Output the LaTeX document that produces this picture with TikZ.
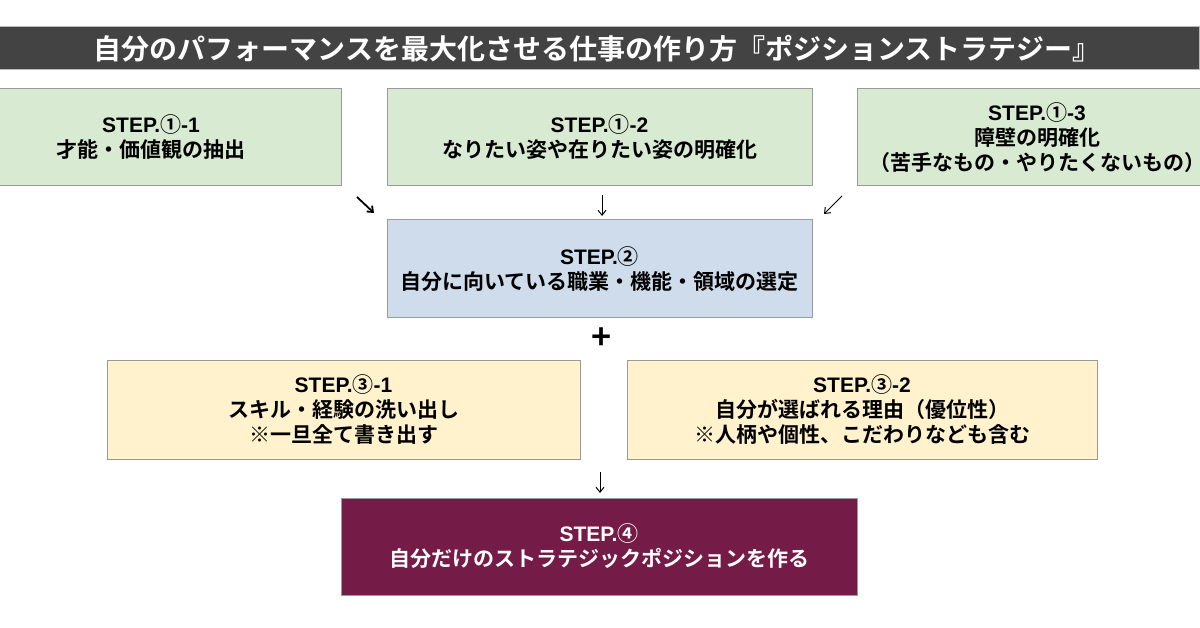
\documentclass[tikz,border=0pt]{standalone}
\usepackage{fontspec}
\setmainfont{Noto Sans CJK JP}[BoldFont={Noto Sans CJK JP Bold}]
\newfontfamily\latinfont{Liberation Sans}
\usetikzlibrary{arrows.meta}

\definecolor{titlegray}{HTML}{434343}
\definecolor{stepgreen}{HTML}{D9EAD3}
\definecolor{stepblue}{HTML}{CFDCEC}
\definecolor{stepyellow}{HTML}{FFF2CC}
\definecolor{steppurple}{HTML}{741B47}
\definecolor{edgegray}{HTML}{9A9A9A}

\newcommand{\steplabel}[2]{{\latinfont STEP.}#1{\latinfont #2}}

\tikzset{
	stepbox/.style={draw=edgegray,line width=1pt,inner sep=0pt,align=center,minimum height=97pt,
		font=\bfseries\fontsize{21}{25}\selectfont},
	greenstep/.style={stepbox,fill=stepgreen},
	bluestep/.style={stepbox,fill=stepblue},
	yellowstep/.style={stepbox,fill=stepyellow},
	purplestep/.style={stepbox,fill=steppurple,text=white},
	titlebar/.style={fill=titlegray,draw=gray!55,line width=1pt,minimum width=1204pt,minimum height=43pt,
		inner sep=0pt,text=white,font=\bfseries\fontsize{28}{30}\selectfont},
	flow/.style={-{Straight Barb[length=5pt,width=8pt]},line width=1pt}
}

\begin{document}
\begin{tikzpicture}[x=1pt,y=-1pt]
	
	\useasboundingbox (0,0) rectangle (1200,628);
	\clip (0,0) rectangle (1200,628);
	
	\node[titlebar] (title) at (597,48.5) {自分のパフォーマンスを最大化させる仕事の作り方『ポジションストラテジー』};
	
	\node[greenstep,minimum width=380pt] (s11) at (151,137.5) {\steplabel{①}{-1}\\才能・価値観の抽出};
	\node[greenstep,minimum width=425pt] (s12) at (599.5,137.5) {\steplabel{①}{-2}\\なりたい姿や在りたい姿の明確化};
	\node[greenstep,minimum width=360pt] (s13) at (1037,137.5) {\steplabel{①}{-3}\\障壁の明確化\\（苦手なもの・やりたくないもの）};
	
	\coordinate (a1s) at (357,197);
	\coordinate (a1e) at (374,213);
	\coordinate (a2s) at (602,195);
	\coordinate (a2e) at (602,216);
	\coordinate (a3s) at (842,196);
	\coordinate (a3e) at (824,214);
	
	\draw[flow,line width=1.8pt] (a1s) -- (a1e);
	\draw[flow] (a2s) -- (a2e);
	\draw[flow] (a3s) -- (a3e);
	
	\node[bluestep,minimum width=425pt,minimum height=98pt] (s2) at (599.5,269) {\steplabel{②}{}\\自分に向いている職業・機能・領域の選定};
	
	\node[font=\bfseries\fontsize{34}{36}\selectfont,inner sep=0pt] (plus) at (602,339) {+};
	
	\node[yellowstep,minimum width=473pt,minimum height=98pt] (s31) at (343.5,410) {\steplabel{③}{-1}\\スキル・経験の洗い出し\\※一旦全て書き出す};
	\node[yellowstep,minimum width=470pt,minimum height=98pt] (s32) at (862,410) {\steplabel{③}{-2}\\自分が選ばれる理由（優位性）\\※人柄や個性、こだわりなども含む};
	
	\coordinate (a4s) at (600,472);
	\coordinate (a4e) at (600,493);
	\draw[flow] (a4s) -- (a4e);
	
	\node[purplestep,minimum width=516pt] (s4) at (599,546.5) {\steplabel{④}{}\\自分だけのストラテジックポジションを作る};
	
\end{tikzpicture}
\end{document}
